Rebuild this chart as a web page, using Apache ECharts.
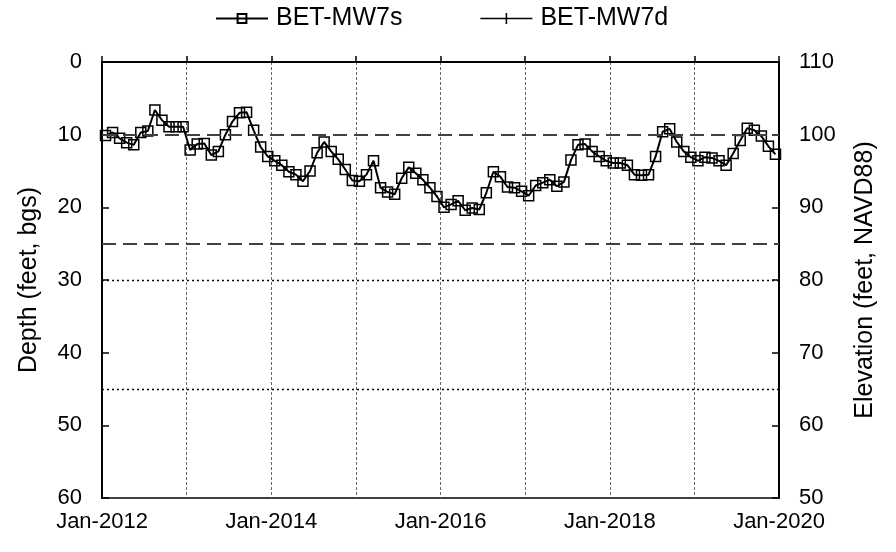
<!DOCTYPE html>
<html>
<head>
<meta charset="utf-8">
<script src="https://cdn.jsdelivr.net/npm/echarts@6/dist/echarts.min.js"></script>
<style>
  html, body { margin: 0; padding: 0; background: #fff; }
  #chart-container { width: 896px; height: 552px; }
</style>
</head>
<body>
<div id="chart-container"></div>
<script>
// monthly depth to water (feet bgs), BET-MW7s, one array per year
var startYear = 2012;
var mw7s2012 = [10.1, 9.7, 10.5, 11.1, 11.4, 9.7, 9.5, 6.6, 8.0, 8.9, 8.9, 8.9];
var mw7s2013 = [12.1, 11.3, 11.2, 12.8, 12.3, 10.0, 8.2, 7.0, 6.9, 9.4, 11.7, 13.0];
var mw7s2014 = [13.6, 14.2, 15.1, 15.5, 16.4, 15.0, 12.5, 11.0, 12.3, 13.4, 14.8, 16.3];
var mw7s2015 = [16.4, 15.5, 13.6, 17.3, 17.9, 18.2, 16.0, 14.5, 15.3, 16.2, 17.3, 18.5];
var mw7s2016 = [20.0, 19.6, 19.1, 20.4, 20.1, 20.3, 18.0, 15.1, 15.8, 17.2, 17.3, 17.8];
var mw7s2017 = [18.4, 17.0, 16.6, 16.2, 17.1, 16.5, 13.5, 11.4, 11.3, 12.3, 13.0, 13.6];
var mw7s2018 = [13.9, 13.9, 14.2, 15.5, 15.6, 15.5, 13.0, 9.6, 9.2, 11.0, 12.3, 13.1];
var mw7s2019 = [13.6, 13.1, 13.2, 13.6, 14.2, 12.6, 10.8, 9.1, 9.4, 10.2, 11.6, 12.7];
var mw7d = []; // no readings plotted for the deep well

// reference depths (feet bgs)
var dashedDepths = [10, 25];
var dottedDepths = [30, 45];

var depthTicks = [0, 60, 10];
var elevTicks = [50, 110, 10];

var years = [mw7s2012, mw7s2013, mw7s2014, mw7s2015, mw7s2016, mw7s2017, mw7s2018, mw7s2019];
var mw7sData = [];
years.forEach(function (vals, y) {
  vals.forEach(function (v, m) {
    // x = months since Jan of startYear, sampled mid-month
    mw7sData.push([y * 12 + m + 0.5, v]);
  });
});

var font = 'Arial, "Liberation Sans", sans-serif';
var fs = 22;      // tick labels
var fsName = 25;  // axis titles, legend

var markData = [];
dashedDepths.forEach(function (d) {
  markData.push({ yAxis: d, lineStyle: { type: [14, 7], color: '#404040', width: 2 } });
});
dottedDepths.forEach(function (d) {
  markData.push({ yAxis: d, lineStyle: { type: [2, 3], color: '#000', width: 1.3 } });
});

var dom = document.getElementById('chart-container');
var myChart = echarts.init(dom, null, { renderer: 'canvas' });

var option = {
  animation: false,
  legend: {
    top: 1,
    left: 210,
    itemWidth: 52,
    itemHeight: 11,
    itemGap: 78,
    textStyle: { fontFamily: font, fontSize: fsName, color: '#000', padding: [0, 0, 0, 3] },
    data: [
      'BET-MW7s',
      { name: 'BET-MW7d', icon: 'path://M0,4.75 L52,4.75 L52,6.25 L0,6.25 Z M25.25,0 L26.75,0 L26.75,11 L25.25,11 Z' }
    ]
  },
  grid: {
    left: 102,
    right: 117,
    top: 62,
    bottom: 54,
    show: true,
    borderColor: '#000',
    borderWidth: 1.5
  },
  xAxis: {
    type: 'value',
    min: 0,
    max: years.length * 12,
    interval: 12,
    axisLine: { lineStyle: { color: '#000', width: 2 } },
    axisTick: { inside: true, length: 6, lineStyle: { color: '#000', width: 1.5 } },
    splitLine: { show: true, lineStyle: { type: [3, 2], color: '#666', width: 1 } },
    axisLabel: {
      margin: 13,
      fontFamily: font,
      fontSize: fs,
      color: '#000',
      formatter: function (v) {
        var yr = startYear + v / 12;
        return (yr % 2 === 0) ? 'Jan-' + yr : '';
      }
    }
  },
  yAxis: [
    {
      type: 'value',
      inverse: true,
      min: depthTicks[0],
      max: depthTicks[1],
      interval: depthTicks[2],
      name: 'Depth (feet, bgs)',
      nameLocation: 'middle',
      nameRotate: 90,
      nameGap: 60,
      nameTextStyle: { fontFamily: font, fontSize: fsName, color: '#000' },
      axisLine: { show: true, lineStyle: { color: '#000', width: 2 } },
      axisTick: { show: true, inside: true, length: 7, lineStyle: { color: '#000', width: 1.5 } },
      splitLine: { show: false },
      axisLabel: { margin: 20, fontFamily: font, fontSize: fs, color: '#000' }
    },
    {
      type: 'value',
      position: 'right',
      min: elevTicks[0],
      max: elevTicks[1],
      interval: elevTicks[2],
      name: 'Elevation (feet, NAVD88)',
      nameLocation: 'middle',
      nameRotate: 90,
      nameGap: 74,
      nameTextStyle: { fontFamily: font, fontSize: fsName, color: '#000' },
      axisLine: { show: true, lineStyle: { color: '#000', width: 2 } },
      axisTick: { show: true, inside: true, length: 7, lineStyle: { color: '#000', width: 1.5 } },
      splitLine: { show: false },
      axisLabel: { margin: 20, fontFamily: font, fontSize: fs, color: '#000' }
    }
  ],
  series: [
    {
      name: 'BET-MW7s',
      type: 'line',
      yAxisIndex: 0,
      symbol: 'rect',
      symbolSize: 10,
      showAllSymbol: true,
      lineStyle: { color: '#000', width: 2 },
      itemStyle: { color: 'rgba(255,255,255,0)', borderColor: '#000', borderWidth: 1.5 },
      data: mw7sData,
      markLine: {
        silent: true,
        symbol: 'none',
        label: { show: false },
        data: markData
      }
    },
    {
      name: 'BET-MW7d',
      type: 'line',
      yAxisIndex: 0,
      symbol: 'rect',
      symbolSize: [1.5, 11],
      lineStyle: { color: '#000', width: 1.5 },
      itemStyle: { color: '#000' },
      data: mw7d
    }
  ]
};

myChart.setOption(option);
window.addEventListener('resize', myChart.resize);
</script>
</body>
</html>
